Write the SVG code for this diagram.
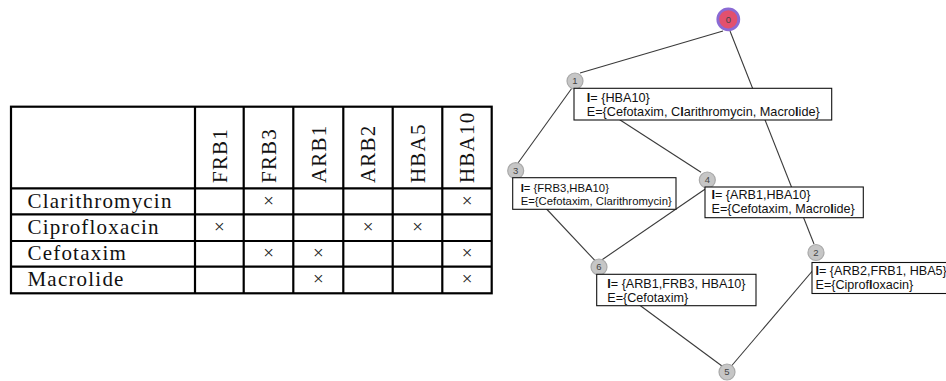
<svg xmlns="http://www.w3.org/2000/svg" width="946" height="381" viewBox="0 0 946 381">
<style>
.grid{stroke:#000;stroke-width:2.2;fill:none}
.tt{font-family:"Liberation Serif","DejaVu Serif",serif;font-size:21px;letter-spacing:1.2px;fill:#111}
.x{font-family:"Liberation Serif","DejaVu Serif",serif;font-size:19px;fill:#222;text-anchor:middle}
.edge{stroke:#3a3a3a;stroke-width:1.1;fill:none}
.node{fill:#c6c6c6;stroke:#a9a9a9;stroke-width:1.2}
.num{font-family:"Liberation Sans",Arial,sans-serif;font-size:9.5px;fill:#444;text-anchor:middle}
.box{fill:#fff;stroke:#111;stroke-width:1.1}
.lb{font-family:"Liberation Sans",Arial,sans-serif;font-size:12.6px;fill:#111}
.b{font-weight:bold}
</style>
<rect width="946" height="381" fill="#fff"/>
<g id="table">
<g class="grid">
<rect x="11" y="106.7" width="480.7" height="186.6"/>
<line x1="11" y1="188.3" x2="491.7" y2="188.3"/>
<line x1="11" y1="214.3" x2="491.7" y2="214.3"/>
<line x1="11" y1="241" x2="491.7" y2="241"/>
<line x1="11" y1="266.7" x2="491.7" y2="266.7"/>
<line x1="195" y1="106.7" x2="195" y2="293.3"/>
<line x1="243.7" y1="106.7" x2="243.7" y2="293.3"/>
<line x1="293.3" y1="106.7" x2="293.3" y2="293.3"/>
<line x1="343.3" y1="106.7" x2="343.3" y2="293.3"/>
<line x1="392.7" y1="106.7" x2="392.7" y2="293.3"/>
<line x1="442.3" y1="106.7" x2="442.3" y2="293.3"/>
</g>
<text class="tt" transform="translate(226.5,183) rotate(-90)">FRB1</text>
<text class="tt" transform="translate(275.7,183) rotate(-90)">FRB3</text>
<text class="tt" transform="translate(325.5,183) rotate(-90)">ARB1</text>
<text class="tt" transform="translate(375.2,183) rotate(-90)">ARB2</text>
<text class="tt" transform="translate(424.7,183) rotate(-90)">HBA5</text>
<text class="tt" transform="translate(474.2,183) rotate(-90)">HBA10</text>
<text class="tt" x="27.5" y="207.5">Clarithromycin</text>
<text class="tt" x="27.5" y="234">Ciprofloxacin</text>
<text class="tt" x="27.5" y="260">Cefotaxim</text>
<text class="tt" x="27.5" y="286">Macrolide</text>
<text class="x" x="268.5" y="206.5">×</text>
<text class="x" x="467" y="206.5">×</text>
<text class="x" x="219.3" y="233">×</text>
<text class="x" x="368" y="233">×</text>
<text class="x" x="417.5" y="233">×</text>
<text class="x" x="268.5" y="259">×</text>
<text class="x" x="318.3" y="259">×</text>
<text class="x" x="467" y="259">×</text>
<text class="x" x="318.3" y="285.2">×</text>
<text class="x" x="467" y="285.2">×</text>
</g>
<g id="connectors">
<line class="edge" x1="723" y1="31" x2="580" y2="73"/>
<line class="edge" x1="730" y1="31" x2="814" y2="244"/>
<line class="edge" x1="572" y1="88" x2="518" y2="163"/>
<line class="edge" x1="600" y1="107" x2="701" y2="172.3"/>
<line class="edge" x1="540" y1="202" x2="596" y2="261.7"/>
<line class="edge" x1="706" y1="188.5" x2="601.7" y2="260"/>
<line class="edge" x1="630" y1="298" x2="725" y2="368.3"/>
<line class="edge" x1="820" y1="262" x2="731" y2="366.5"/>
</g>
<g id="n0">
<circle cx="728.3" cy="19.3" r="10.5" fill="#e2506e" stroke="#8a6ad4" stroke-width="2.8"/>
<text class="num" x="728.3" y="22.6" fill="#7a2030">0</text>
</g>
<g id="n1">
<circle class="node" cx="575" cy="81" r="8"/>
<text class="num" x="575" y="84.3">1</text>
<rect class="box" x="574" y="88.3" width="257.7" height="31.7"/>
<text class="lb" x="586.7" y="101.5" style="font-size:12.7px"><tspan class="b">I</tspan>= {HBA10}</text>
<text class="lb" x="586.7" y="115.5" style="font-size:12.7px">E={Cefotaxim, C<tspan class="b">l</tspan>arithromycin, Macro<tspan class="b">l</tspan>ide}</text>
</g>
<g id="n3">
<circle class="node" cx="515.7" cy="170.7" r="8"/>
<text class="num" x="515.7" y="174">3</text>
<rect class="box" x="512.7" y="177.7" width="163.3" height="31.6"/>
<text class="lb" x="520.7" y="192" style="font-size:11.3px"><tspan class="b">I</tspan>= {FRB3,HBA10}</text>
<text class="lb" x="520.7" y="204.5" style="font-size:11.3px">E={Cefotaxim, Clarithromycin}</text>
</g>
<g id="n4">
<circle class="node" cx="707.3" cy="180" r="8"/>
<text class="num" x="707.3" y="183.3">4</text>
<rect class="box" x="705" y="187" width="158.3" height="30.7"/>
<text class="lb" x="711.5" y="199.3"><tspan class="b">I</tspan>= {ARB1,HBA10}</text>
<text class="lb" x="711.5" y="213">E={Cefotaxim, Macro<tspan class="b">l</tspan>ide}</text>
</g>
<g id="n2">
<circle class="node" cx="816" cy="252.5" r="8"/>
<text class="num" x="816" y="255.8">2</text>
<rect class="box" x="812" y="262.5" width="150" height="31"/>
<text class="lb" x="815.5" y="275"><tspan class="b">I</tspan>= {ARB2,FRB1, HBA5}</text>
<text class="lb" x="815.5" y="288.5">E={Ciprof<tspan class="b">l</tspan>oxacin}</text>
</g>
<g id="n6">
<circle class="node" cx="599" cy="267" r="8"/>
<text class="num" x="599" y="270.3">6</text>
<rect class="box" x="596.7" y="274.3" width="159.3" height="31.4"/>
<text class="lb" x="607.3" y="287.5"><tspan class="b">I</tspan>= {ARB1,FRB3, HBA10}</text>
<text class="lb" x="607.3" y="301.5">E={Cefotaxim}</text>
</g>
<g id="n5">
<circle class="node" cx="727" cy="372" r="8"/>
<text class="num" x="727" y="375.3">5</text>
</g>
</svg>
